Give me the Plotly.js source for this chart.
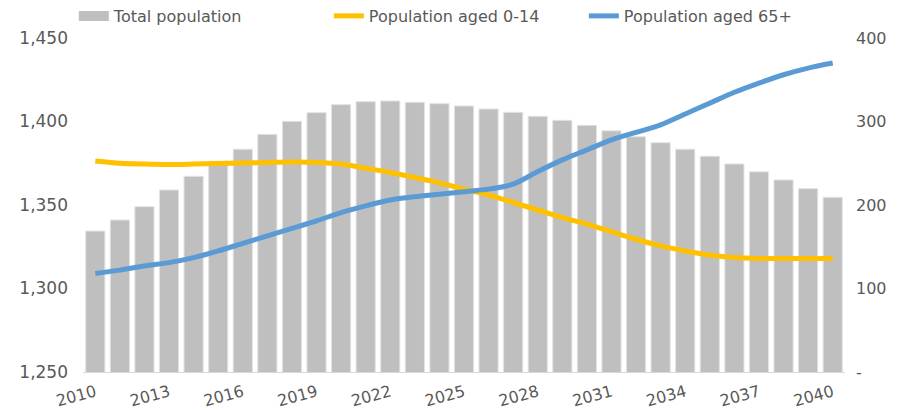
<!DOCTYPE html>
<html>
<head>
<meta charset="utf-8">
<script src="https://cdn.plot.ly/plotly-3.0.1.min.js"></script>
<style>
  html, body { margin: 0; padding: 0; background: #fff; }
  #plot { width: 907px; height: 411px; }
</style>
</head>
<body>
<div id="plot"></div>
<script>
var years = [2010, 2011, 2012, 2013, 2014, 2015, 2016, 2017, 2018, 2019,
             2020, 2021, 2022, 2023, 2024, 2025, 2026, 2027, 2028, 2029,
             2030, 2031, 2032, 2033, 2034, 2035, 2036, 2037, 2038, 2039, 2040];

// millions, left axis
var totalPop = [1334.4, 1341.0, 1349.0, 1359.0, 1367.2, 1376.2, 1383.4, 1392.3, 1400.1, 1405.3,
                1410.1, 1411.9, 1412.3, 1411.5, 1410.7, 1409.3, 1407.5, 1405.5, 1403.1, 1400.7,
                1397.7, 1394.4, 1390.9, 1387.3, 1383.4, 1379.2, 1374.6, 1369.9, 1365.0, 1359.8, 1354.6];

// millions, right axis
var aged0to14 = [252.7, 250, 249, 248.5, 249, 249.7, 250.3, 251, 251.5, 251,
                 249, 244, 239, 233, 226.5, 219, 212, 203, 194, 185,
                 177, 168, 159, 151, 145, 140, 137, 136, 136, 136, 136];

var aged65plus = [118, 122, 127, 131, 137, 145, 154, 163, 172, 181,
                  191, 199, 206, 210, 213, 216, 219, 225, 240, 254,
                  266, 278, 287, 296, 309, 322, 335, 346, 356, 364, 370];

var tickYears = [2010, 2013, 2016, 2019, 2022, 2025, 2028, 2031, 2034, 2037, 2040];

var textColor = '#595959';
var barColor = '#BFBFBF';

var bars = {
  x: years,
  y: totalPop,
  type: 'bar',
  name: 'Total population',
  showlegend: false,
  marker: { color: barColor, line: { color: '#E3E3E3', width: 1 } },
  hoverinfo: 'skip'
};

// legend entry only: wide flat swatch like the original
var barsKey = {
  x: [null],
  y: [null],
  type: 'scatter',
  mode: 'lines',
  name: 'Total population',
  line: { color: barColor, width: 10 },
  hoverinfo: 'skip'
};

var young = {
  x: years,
  y: aged0to14,
  type: 'scatter',
  mode: 'lines',
  name: 'Population aged 0-14',
  yaxis: 'y2',
  line: { color: '#FFC000', width: 5, shape: 'spline', smoothing: 0.8 },
  hoverinfo: 'skip'
};

var old = {
  x: years,
  y: aged65plus,
  type: 'scatter',
  mode: 'lines',
  name: 'Population aged 65+',
  yaxis: 'y2',
  line: { color: '#5B9BD5', width: 5, shape: 'spline', smoothing: 0.8 },
  hoverinfo: 'skip'
};

var layout = {
  width: 907,
  height: 411,
  margin: { l: 83, r: 62, t: 38, b: 39, autoexpand: false },
  paper_bgcolor: '#ffffff',
  plot_bgcolor: '#ffffff',
  font: { family: 'DejaVu Sans, sans-serif', size: 16, color: textColor },
  bargap: 0.22,
  showlegend: true,
  legend: {
    orientation: 'h',
    x: -0.012,
    xanchor: 'left',
    y: 1.015,
    yanchor: 'bottom',
    font: { size: 16, color: textColor },
    traceorder: 'normal',
    entrywidth: 210,
    entrywidthmode: 'pixels',
    tracegroupgap: 0
  },
  xaxis: {
    range: [2009.5, 2040.5],
    tickvals: tickYears,
    ticktext: tickYears.map(String),
    tickangle: -15,
    showgrid: false,
    zeroline: false,
    showline: true,
    linecolor: '#D9D9D9',
    linewidth: 1,
    ticks: '',
    ticklabelstandoff: 4,
    tickfont: { size: 16, color: textColor }
  },
  yaxis: {
    range: [1250, 1450],
    tickvals: [1250, 1300, 1350, 1400, 1450],
    tickformat: ',',
    showgrid: false,
    zeroline: false,
    showline: false,
    ticks: '',
    ticklabelstandoff: 14,
    tickfont: { size: 17, color: textColor }
  },
  yaxis2: {
    overlaying: 'y',
    side: 'right',
    range: [0, 400],
    tickvals: [0, 100, 200, 300, 400],
    ticktext: ['-', '100', '200', '300', '400'],
    showgrid: false,
    zeroline: false,
    showline: false,
    ticks: '',
    ticklabelstandoff: 10,
    tickfont: { size: 16, color: textColor }
  }
};

Plotly.newPlot('plot', [barsKey, bars, young, old], layout, { staticPlot: true, displayModeBar: false });
</script>
</body>
</html>
